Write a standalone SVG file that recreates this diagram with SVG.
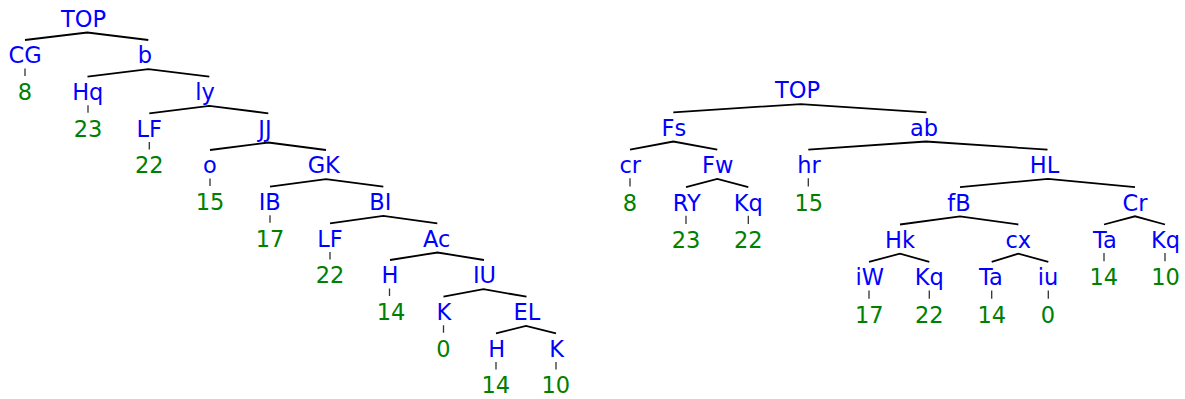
<svg xmlns="http://www.w3.org/2000/svg" width="1185" height="399" viewBox="0 0 1185 399">
<style>
text{font-family:"DejaVu Sans",sans-serif;font-size:22.5px;text-anchor:middle}
.n{fill:#0000ff}
.l{fill:#008000}
.e{fill:none;stroke:#000;stroke-width:1.8}
.t{fill:none;stroke:#333;stroke-width:1.3}
</style>
<rect width="1185" height="399" fill="#fff"/>
<g id="connectors">
<path class="e" d="M25,40 L87.3,32.5 L148.3,40"/>
<path class="e" d="M87.5,76.6 L148.3,69.2 L209.3,76.6"/>
<path class="e" d="M149.3,113.3 L209.3,105.8 L268.3,113.3"/>
<path class="e" d="M210,150 L268.3,142.5 L326,150"/>
<path class="e" d="M270,186.7 L326,179.2 L383.3,186.7"/>
<path class="e" d="M330,223.3 L383.3,215.9 L437.3,223.3"/>
<path class="e" d="M390,260 L437.5,252.5 L484,260"/>
<path class="e" d="M443.5,296.7 L483.5,289.2 L526.5,296.7"/>
<path class="e" d="M496,333.3 L526,325.9 L556,333.3"/>
<path class="t" d="M25,68.6V76 M88,105.2V112.7 M149.3,141.9V149.4 M210,178.6V186.1 M270,215.3V222.7 M330,251.9V259.4 M389.5,288.6V296.1 M443.5,325.3V332.7 M496,361.9V369.4 M556,361.9V369.4"/>
<path class="e" d="M673.3,112.3 L800.7,104.1 L926.5,112.3"/>
<path class="e" d="M630,149.7 L673.3,141.5 L717.3,149.7"/>
<path class="e" d="M808.3,149.7 L926,141.5 L1047.5,149.7"/>
<path class="e" d="M686,187.1 L717.3,178.9 L748.3,187.1"/>
<path class="e" d="M960,187.1 L1048,178.9 L1135,187.1"/>
<path class="e" d="M900,224.5 L960,216.3 L1018.3,224.5"/>
<path class="e" d="M1104,224.5 L1135,216.3 L1165,224.5"/>
<path class="e" d="M869,261.9 L900,253.7 L929.3,261.9"/>
<path class="e" d="M991.7,261.9 L1018.3,253.7 L1048.3,261.9"/>
<path class="t" d="M630,178.3V186.5 M808.3,178.3V186.5 M686,215.7V223.9 M748.3,215.7V223.9 M1104,253.1V261.3 M1165,253.1V261.3 M869,290.5V298.7 M929.3,290.5V298.7 M991.7,290.5V298.7 M1048.3,290.5V298.7"/>
</g>
<g id="left-tree">
<g id="L-TOP"><text class="n" x="83.5" y="26.7">TOP</text></g>
<g id="L-CG"><text class="n" x="25" y="63.4">CG</text></g>
<g id="L-b"><text class="n" x="145" y="63.4">b</text></g>
<g id="L-8"><text class="l" x="25" y="100">8</text></g>
<g id="L-Hq"><text class="n" x="87.8" y="100">Hq</text></g>
<g id="L-ly"><text class="n" x="205" y="100">ly</text></g>
<g id="L-23"><text class="l" x="88" y="136.7">23</text></g>
<g id="L-LF1"><text class="n" x="149.3" y="136.7">LF</text></g>
<g id="L-JJ"><text class="n" x="265" y="136.7">JJ</text></g>
<g id="L-22a"><text class="l" x="149.3" y="173.4">22</text></g>
<g id="L-o"><text class="n" x="210" y="173.4">o</text></g>
<g id="L-GK"><text class="n" x="323.8" y="173.4">GK</text></g>
<g id="L-15"><text class="l" x="210" y="210.1">15</text></g>
<g id="L-IB"><text class="n" x="269.7" y="210.1">IB</text></g>
<g id="L-BI"><text class="n" x="380.3" y="210.1">BI</text></g>
<g id="L-17"><text class="l" x="270" y="246.7">17</text></g>
<g id="L-LF2"><text class="n" x="330" y="246.7">LF</text></g>
<g id="L-Ac"><text class="n" x="436.8" y="246.7">Ac</text></g>
<g id="L-22b"><text class="l" x="330" y="283.4">22</text></g>
<g id="L-H1"><text class="n" x="390" y="283.4">H</text></g>
<g id="L-IU"><text class="n" x="484.5" y="283.4">IU</text></g>
<g id="L-14a"><text class="l" x="391" y="320.1">14</text></g>
<g id="L-K1"><text class="n" x="444" y="320.1">K</text></g>
<g id="L-EL"><text class="n" x="527" y="320.1">EL</text></g>
<g id="L-0"><text class="l" x="443.5" y="356.7">0</text></g>
<g id="L-H2"><text class="n" x="496.7" y="356.7">H</text></g>
<g id="L-K2"><text class="n" x="556.7" y="356.7">K</text></g>
<g id="L-14b"><text class="l" x="495.8" y="393.4">14</text></g>
<g id="L-10"><text class="l" x="555.8" y="393.4">10</text></g>
</g>
<g id="right-tree">
<g id="R-TOP"><text class="n" x="797.5" y="98.3">TOP</text></g>
<g id="R-Fs"><text class="n" x="673.8" y="135.7">Fs</text></g>
<g id="R-ab"><text class="n" x="924" y="135.7">ab</text></g>
<g id="R-cr"><text class="n" x="630.3" y="173.1">cr</text></g>
<g id="R-Fw"><text class="n" x="717.7" y="173.1">Fw</text></g>
<g id="R-hr"><text class="n" x="809" y="173.1">hr</text></g>
<g id="R-HL"><text class="n" x="1044.5" y="173.1">HL</text></g>
<g id="R-8"><text class="l" x="630" y="210.5">8</text></g>
<g id="R-RY"><text class="n" x="686.7" y="210.5">RY</text></g>
<g id="R-Kq1"><text class="n" x="748.3" y="210.5">Kq</text></g>
<g id="R-15"><text class="l" x="808.8" y="210.5">15</text></g>
<g id="R-fB"><text class="n" x="959" y="210.5">fB</text></g>
<g id="R-Cr"><text class="n" x="1135" y="210.5">Cr</text></g>
<g id="R-23"><text class="l" x="686" y="247.9">23</text></g>
<g id="R-22a"><text class="l" x="748.3" y="247.9">22</text></g>
<g id="R-Hk"><text class="n" x="900" y="247.9">Hk</text></g>
<g id="R-cx"><text class="n" x="1018.3" y="247.9">cx</text></g>
<g id="R-Ta1"><text class="n" x="1105" y="247.9">Ta</text></g>
<g id="R-Kq2"><text class="n" x="1165.5" y="247.9">Kq</text></g>
<g id="R-iW"><text class="n" x="869.7" y="285.3">iW</text></g>
<g id="R-Kq3"><text class="n" x="929.2" y="285.3">Kq</text></g>
<g id="R-Ta2"><text class="n" x="991" y="285.3">Ta</text></g>
<g id="R-iu"><text class="n" x="1048" y="285.3">iu</text></g>
<g id="R-14a"><text class="l" x="1103.7" y="285.3">14</text></g>
<g id="R-10"><text class="l" x="1165.5" y="285.3">10</text></g>
<g id="R-17"><text class="l" x="869.3" y="322.7">17</text></g>
<g id="R-22b"><text class="l" x="929.3" y="322.7">22</text></g>
<g id="R-14b"><text class="l" x="991.7" y="322.7">14</text></g>
<g id="R-0"><text class="l" x="1048" y="322.7">0</text></g>
</g>
</svg>
